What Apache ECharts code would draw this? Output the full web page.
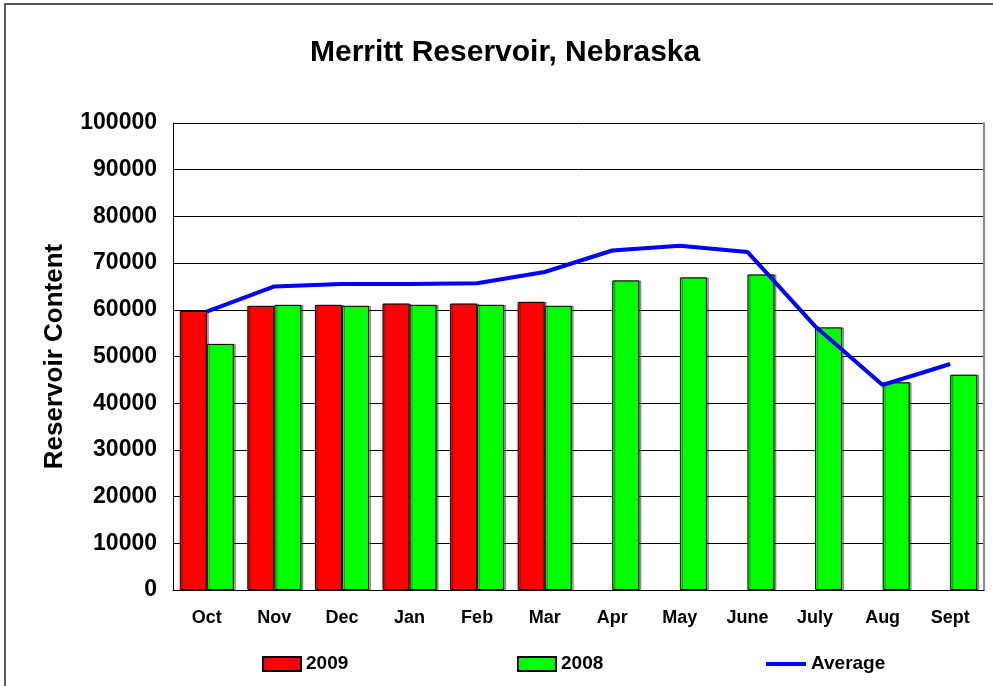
<!DOCTYPE html>
<html>
<head>
<meta charset="utf-8">
<title>Merritt Reservoir, Nebraska</title>
<script src="https://cdn.jsdelivr.net/npm/echarts@6/dist/echarts.min.js"></script>
<style>
  html, body { margin: 0; padding: 0; background: #fff; }
  #chart { width: 993px; height: 686px; }
</style>
</head>
<body>
<div id="chart"></div>
<script>
// values
var months = ["Oct", "Nov", "Dec", "Jan", "Feb", "Mar", "Apr", "May", "June", "July", "Aug", "Sept"];
var content2009 = [59800, 60850, 61060, 61340, 61340, 61700, null, null, null, null, null, null];
var content2008 = [52700, 61060, 60850, 61060, 61060, 60850, 66300, 66940, 67570, 56230, 44470, 46100];
var contentAverage = [59600, 65000, 65500, 65500, 65700, 68100, 72700, 73700, 72400, 56500, 43900, 48400];
var yMin = 0, yMax = 100000, yStep = 10000;

var font = "'Liberation Sans', Arial, sans-serif";

var myChart = echarts.init(document.getElementById("chart"));

var barStyle = function (color) {
  return {
    color: color,
    borderColor: "#000",
    borderWidth: 1,
    shadowColor: "rgba(0,0,0,0.35)",
    shadowOffsetX: 2,
    shadowOffsetY: 0,
    shadowBlur: 0
  };
};

var legendBase = function (name, left, width, height) {
  return {
    data: [{ name: name, icon: "rect" }],
    left: left,
    top: 654,
    padding: 0,
    itemWidth: width,
    itemHeight: height,
    itemGap: 5,
    textStyle: { fontFamily: font, fontSize: 19, fontWeight: "bold", color: "#000", lineHeight: 20 }
  };
};

var option = {
  animation: false,
  backgroundColor: "#fff",
  title: {
    text: "Merritt Reservoir, Nebraska",
    left: 310,
    top: 38,
    padding: 0,
    textStyle: { fontFamily: font, fontSize: 30, fontWeight: "bold", color: "#000" }
  },
  legend: [
    legendBase("2009", 262, 38, 14),
    legendBase("2008", 517, 38, 14),
    legendBase("Average", 766, 40, 4)
  ],
  grid: { left: 173, right: 9, top: 123, bottom: 96, containLabel: false },
  xAxis: {
    type: "category",
    data: months,
    axisLine: { lineStyle: { color: "#000", width: 1 } },
    axisTick: { show: false },
    axisLabel: { fontFamily: font, fontSize: 18, fontWeight: "bold", color: "#000", margin: 19 }
  },
  yAxis: [
    {
      type: "value",
      min: yMin,
      max: yMax,
      interval: yStep,
      name: "Reservoir Content",
      nameLocation: "middle",
      nameGap: 105,
      nameTextStyle: { fontFamily: font, fontSize: 26, fontWeight: "bold", color: "#000" },
      axisLine: { show: true, lineStyle: { color: "#000", width: 1 } },
      axisTick: { show: false },
      axisLabel: {
        fontFamily: font, fontSize: 23, fontWeight: "bold", color: "#000", margin: 16,
        formatter: function (v) { return String(v); }
      },
      splitLine: { show: true, lineStyle: { color: "#000", width: 1 } }
    },
    {
      // grey right edge of the plot area
      type: "value",
      position: "right",
      min: yMin,
      max: yMax,
      interval: yStep,
      axisLine: { show: true, lineStyle: { color: "#8c8c8c", width: 2 } },
      axisTick: { show: false },
      axisLabel: { show: false },
      splitLine: { show: false }
    }
  ],
  series: [
    {
      name: "2009",
      type: "bar",
      data: content2009,
      barGap: "0%",
      barCategoryGap: "20%",
      itemStyle: barStyle("#ff0000")
    },
    {
      name: "2008",
      type: "bar",
      data: content2008,
      barGap: "0%",
      barCategoryGap: "20%",
      itemStyle: barStyle("#00ff00")
    },
    {
      name: "Average",
      type: "line",
      data: contentAverage,
      symbol: "none",
      itemStyle: { color: "#0000ff" },
      lineStyle: { color: "#0000ff", width: 4 },
      z: 5
    }
  ],
  graphic: [
    {
      // outer chart frame (only left and top edges fall inside the picture)
      type: "rect",
      shape: { x: 5, y: 4, width: 1200, height: 1200 },
      style: { fill: null, stroke: "#222", lineWidth: 1.5 },
      silent: true
    }
  ]
};

myChart.setOption(option);
</script>
</body>
</html>
